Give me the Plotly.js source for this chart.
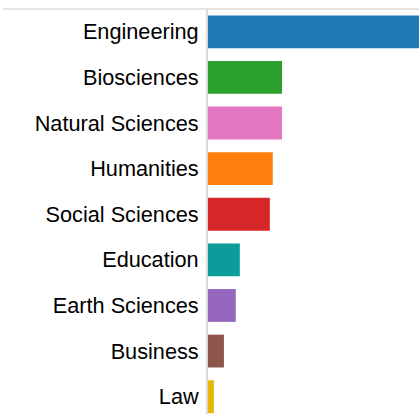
<!DOCTYPE html>
<html>
<head>
<meta charset="utf-8">
<script src="https://cdn.plot.ly/plotly-3.0.1.min.js"></script>
<style>html,body{margin:0;padding:0;overflow:hidden;background:#fff;}</style>
</head>
<body>
<div id="chart" style="width:419px;height:414px;"></div>
<script>
const categories = ["Engineering","Biosciences","Natural Sciences","Humanities","Social Sciences","Education","Earth Sciences","Business","Law"];
const values = [57, 20, 20, 17.5, 16.7, 8.6, 7.5, 4.3, 1.6];
const colors = ["#1f77b4","#2ca02c","#e377c2","#ff7f0e","#d62728","#0e9c9a","#9467bd","#8c564b","#e6b80a"];

Plotly.newPlot("chart", [{
  type: "bar",
  orientation: "h",
  y: categories,
  x: values,
  marker: {color: colors, line: {width: 0}},
  hoverinfo: "none"
}], {
  width: 419, height: 414,
  margin: {l: 208, r: 0, t: 9, b: 0, pad: 0},
  paper_bgcolor: "#fff", plot_bgcolor: "#fff",
  bargap: 0.28,
  showlegend: false,
  font: {family: "Liberation Sans, Arial, sans-serif", color: "#000"},
  xaxis: {range: [0, 57], showgrid: false, zeroline: false, showticklabels: false, showline: false, fixedrange: true},
  yaxis: {
    type: "category",
    range: [8.38, -0.5],
    showgrid: false, zeroline: false,
    showline: true, linecolor: "#dadada", linewidth: 2,
    ticks: "", ticklabelstandoff: 3,
    tickfont: {size: 21.7, color: "#000", family: "Liberation Sans, Arial, sans-serif"}
  },
  shapes: [{type: "line", xref: "paper", yref: "paper", x0: -0.972, x1: 1, y0: 1, y1: 1, line: {color: "#dcdcdc", width: 1.5}}]
}, {displayModeBar: false, staticPlot: true});
</script>
</body>
</html>
